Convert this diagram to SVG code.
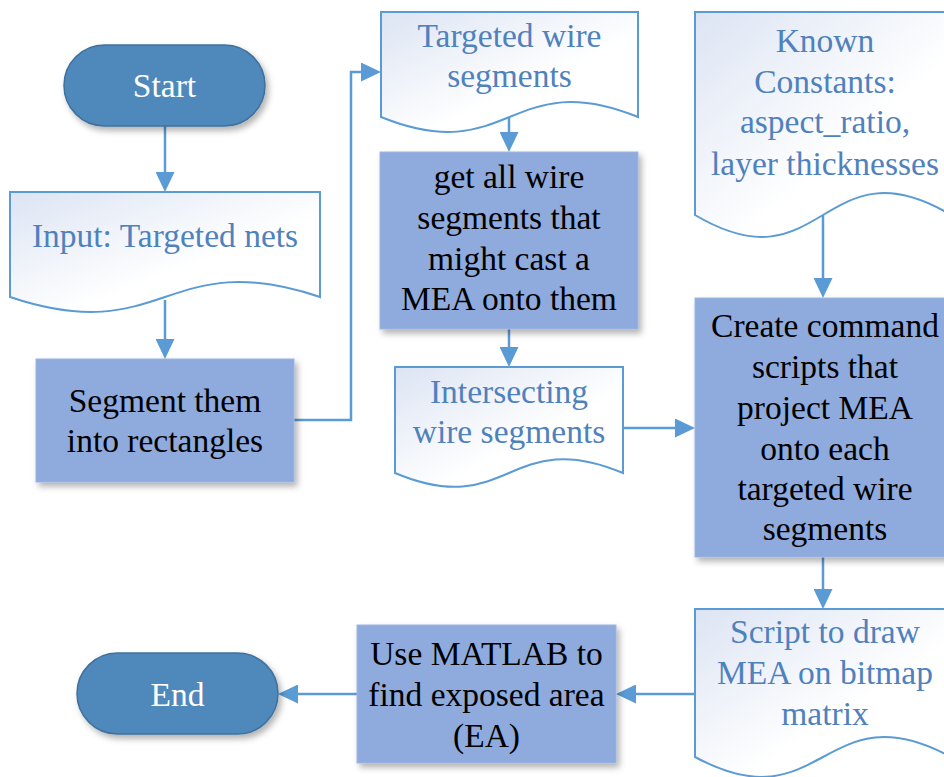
<svg xmlns="http://www.w3.org/2000/svg" width="944" height="777" viewBox="0 0 944 777">
  <style>
    text { font-family: "Liberation Serif", "Times New Roman", serif; font-size: 33.5px; text-anchor: middle; }
    .term { fill: #4f88bb; stroke: #41719c; stroke-width: 1.5; filter: url(#shadow); }
    .term-text { fill: #ffffff; }
    .proc { fill: #8faadc; stroke: #9db5e0; stroke-width: 1; filter: url(#shadow); }
    .proc-text { fill: #000000; }
    .doc { fill: url(#docFill); stroke: #5b9bd5; stroke-width: 2; }
    .doc-text { fill: #4f81bd; }
    .edge { fill: none; stroke: #5b9bd5; stroke-width: 2.5; marker-end: url(#arrow); }
  </style>
  <defs>
    <linearGradient id="docFill" x1="0" y1="0" x2="1" y2="1">
      <stop offset="0" stop-color="#dce4f3"/>
      <stop offset="0.6" stop-color="#ffffff"/>
      <stop offset="1" stop-color="#ffffff"/>
    </linearGradient>
    <filter id="shadow" x="-10%" y="-10%" width="125%" height="130%">
      <feDropShadow dx="3" dy="4" stdDeviation="3" flood-color="#000000" flood-opacity="0.3"/>
    </filter>
    <marker id="arrow" markerUnits="userSpaceOnUse" markerWidth="20" markerHeight="19" refX="15" refY="9.5" orient="auto">
      <path d="M0,0 L20,9.5 L0,19 Z" fill="#5b9bd5"/>
    </marker>
  </defs>

  <rect width="944" height="777" fill="#ffffff"/>

  <!-- connectors (drawn under the shapes) -->
  <g id="connectors">
    <path class="edge" d="M165,126 V187"/>
    <path class="edge" d="M165,300 V354"/>
    <path class="edge" d="M294,420 H351 V72 H376"/>
    <path class="edge" d="M509,112 V147"/>
    <path class="edge" d="M509,329 V362"/>
    <path class="edge" d="M623,428 H690"/>
    <path class="edge" d="M823,205 V293"/>
    <path class="edge" d="M823,557 V604"/>
    <path class="edge" d="M695,694 H621"/>
    <path class="edge" d="M357,694 H283"/>
  </g>

  <g id="start">
    <rect class="term" x="64" y="45" width="201" height="81" rx="40.5"/>
    <text class="term-text" x="164.5" y="97">Start</text>
  </g>

  <g id="input-nets">
    <path class="doc" d="M10,192 H320 V297 C165,245 165,349 10,297 Z"/>
    <text class="doc-text" x="165" y="247">Input: Targeted nets</text>
  </g>

  <g id="segment">
    <rect class="proc" x="36" y="359" width="258" height="123"/>
    <text class="proc-text" x="165" y="412">Segment them</text>
    <text class="proc-text" x="165" y="452">into rectangles</text>
  </g>

  <g id="targeted-segments">
    <path class="doc" d="M381,12 H638 V117 C509.5,65 509.5,169 381,117 Z"/>
    <text class="doc-text" x="509.5" y="47">Targeted wire</text>
    <text class="doc-text" x="509.5" y="87">segments</text>
  </g>

  <g id="get-all">
    <rect class="proc" x="380" y="152" width="258" height="177"/>
    <text class="proc-text" x="509" y="188">get all wire</text>
    <text class="proc-text" x="509" y="229">segments that</text>
    <text class="proc-text" x="509" y="270">might cast a</text>
    <text class="proc-text" x="509" y="310">MEA onto them</text>
  </g>

  <g id="intersecting">
    <path class="doc" d="M395,367 H623 V473 C509,425 509,521 395,473 Z"/>
    <text class="doc-text" x="509" y="403">Intersecting</text>
    <text class="doc-text" x="509" y="443">wire segments</text>
  </g>

  <g id="known-constants">
    <path class="doc" d="M695,12 H951 V215 C823,139 823,291 695,215 Z"/>
    <text class="doc-text" x="825" y="52">Known</text>
    <text class="doc-text" x="825" y="93">Constants:</text>
    <text class="doc-text" x="825" y="133">aspect_ratio,</text>
    <text class="doc-text" x="825" y="175">layer thicknesses</text>
  </g>

  <g id="create-scripts">
    <rect class="proc" x="695" y="298" width="256" height="259"/>
    <text class="proc-text" x="825" y="337">Create command</text>
    <text class="proc-text" x="825" y="378">scripts that</text>
    <text class="proc-text" x="825" y="419">project MEA</text>
    <text class="proc-text" x="825" y="460">onto each</text>
    <text class="proc-text" x="825" y="500">targeted wire</text>
    <text class="proc-text" x="825" y="540">segments</text>
  </g>

  <g id="draw-script">
    <path class="doc" d="M695,609 H951 V757 C823,688 823,826 695,757 Z"/>
    <text class="doc-text" x="825" y="643">Script to draw</text>
    <text class="doc-text" x="825" y="684">MEA on bitmap</text>
    <text class="doc-text" x="825" y="725">matrix</text>
  </g>

  <g id="matlab">
    <rect class="proc" x="357" y="625" width="259" height="138"/>
    <text class="proc-text" x="486.5" y="665">Use MATLAB to</text>
    <text class="proc-text" x="486.5" y="706">find exposed area</text>
    <text class="proc-text" x="486.5" y="747">(EA)</text>
  </g>

  <g id="end">
    <rect class="term" x="77" y="653" width="201" height="81" rx="40.5"/>
    <text class="term-text" x="177.5" y="706">End</text>
  </g>
</svg>
